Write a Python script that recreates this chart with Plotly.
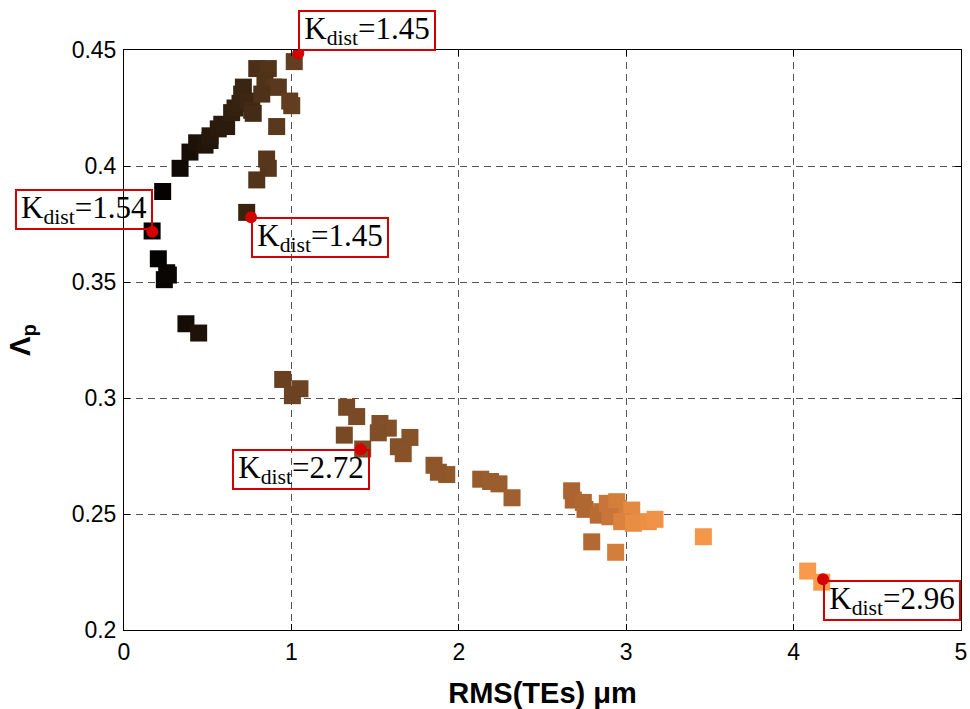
import plotly.graph_objects as go

# ---- data ----
rms_x = [0.168, 0.231, 0.205, 0.255, 0.241, 0.265, 0.370, 0.446, 0.335, 0.394,
         0.434, 0.484, 0.514, 0.514, 0.563, 0.584, 0.613, 0.643, 0.663, 0.693,
         0.703, 0.713, 0.743, 0.763, 0.772, 0.793, 0.862, 0.842, 0.892, 0.922,
         0.823, 1.002, 0.990, 0.912, 1.017, 0.852, 0.862, 0.793, 0.733,
         0.948, 1.051, 1.006, 1.330, 1.390, 1.316, 1.426, 1.529, 1.579, 1.519,
         1.708, 1.639, 1.668, 1.852, 1.928, 1.878, 2.131, 2.190, 2.240, 2.318,
         2.674, 2.684, 2.744, 2.754, 2.854, 2.833, 2.887, 2.943, 2.953, 2.903,
         3.033, 2.973, 3.043, 3.132, 3.172, 2.794, 2.937, 3.461, 4.084, 4.168]
lambda_p = [0.372, 0.389, 0.360, 0.354, 0.351, 0.353, 0.332, 0.328, 0.399, 0.406,
            0.410, 0.409, 0.411, 0.413, 0.416, 0.418, 0.417, 0.423, 0.425, 0.427,
            0.431, 0.434, 0.428, 0.424, 0.4227, 0.442, 0.442, 0.437, 0.434, 0.434,
            0.431, 0.426, 0.428, 0.417, 0.445, 0.403, 0.399, 0.394, 0.380,
            0.308, 0.304, 0.301, 0.296, 0.292, 0.284, 0.278, 0.289, 0.287, 0.285,
            0.283, 0.279, 0.276, 0.271, 0.267, 0.268, 0.265, 0.264, 0.263, 0.257,
            0.260, 0.256, 0.255, 0.252, 0.251, 0.2495, 0.2546, 0.2553, 0.2525, 0.2488,
            0.2517, 0.2467, 0.2460, 0.2467, 0.2477, 0.2380, 0.2335, 0.2402, 0.2254, 0.2206]
seq_index = [0.00, 0.02, 0.02, 0.03, 0.03, 0.04, 0.08, 0.12, 0.06, 0.09,
             0.11, 0.13, 0.14, 0.15, 0.16, 0.17, 0.17, 0.19, 0.20, 0.21,
             0.22, 0.23, 0.24, 0.26, 0.27, 0.30, 0.33, 0.32, 0.34, 0.36,
             0.31, 0.40, 0.39, 0.36, 0.40, 0.35, 0.35, 0.33, 0.22,
             0.42, 0.44, 0.43, 0.48, 0.49, 0.48, 0.50, 0.52, 0.53, 0.52,
             0.55, 0.54, 0.55, 0.58, 0.59, 0.58, 0.62, 0.63, 0.63, 0.65,
             0.70, 0.70, 0.72, 0.72, 0.76, 0.75, 0.80, 0.84, 0.84, 0.80,
             0.90, 0.86, 0.92, 0.94, 0.96, 0.73, 0.84, 0.98, 1.00, 1.00]

sel_x = [0.169, 1.041, 0.759, 1.414, 4.176]
sel_y = [0.3717, 0.4486, 0.3779, 0.2779, 0.2219]
sel_k = ["1.54", "1.45", "1.45", "2.72", "2.96"]

colorscale = [[0.0, "#000000"], [0.2, "#33200f"], [0.4, "#643e20"],
              [0.6, "#93592b"], [0.75, "#b86b33"], [0.88, "#e08640"],
              [1.0, "#f89a4c"]]

fig = go.Figure()
fig.add_trace(go.Scatter(
    x=rms_x, y=lambda_p, mode="markers",
    marker=dict(symbol="square", size=17, color=seq_index,
                colorscale=colorscale, cmin=0, cmax=1, showscale=False,
                line=dict(width=0)),
    showlegend=False))
fig.add_trace(go.Scatter(
    x=sel_x, y=sel_y, mode="markers",
    marker=dict(symbol="circle", size=12, color="#d40000", line=dict(width=0)),
    showlegend=False))

# label placements: (xanchor, yanchor, xshift, yshift)
place = [("right", "bottom", 1, 2),
         ("left", "bottom", 0, 2),
         ("left", "top", 0, 0),
         ("right", "top", 9, 0),
         ("left", "top", 0, -1)]
for (xx, yy, k, (xa, ya, xs, ys)) in zip(sel_x, sel_y, sel_k, place):
    fig.add_annotation(
        x=xx, y=yy, xref="x", yref="y", showarrow=False,
        text="K<sub>dist</sub>=" + k,
        font=dict(family="Liberation Serif, Times New Roman, serif", size=31, color="black"),
        xanchor=xa, yanchor=ya, xshift=xs, yshift=ys,
        bordercolor="#d40000", borderwidth=2, borderpad=1,
        bgcolor="rgba(0,0,0,0)", width=132, height=35)

axis_common = dict(showline=True, linecolor="black", linewidth=1, mirror="allticks",
                   ticks="inside", ticklen=6, tickcolor="black",
                   showgrid=True, gridcolor="#555555", gridwidth=1, griddash="7px,5px",
                   zeroline=False,
                   tickfont=dict(family="Liberation Sans, Arial, sans-serif", size=23, color="black"))

fig.update_xaxes(range=[0, 5], dtick=1, tick0=0,
                 title=dict(text="<b>RMS(TEs) μm</b>",
                            font=dict(family="Liberation Sans, Arial, sans-serif", size=29, color="black"),
                            standoff=20),
                 ticklabelstandoff=1, **axis_common)
fig.update_yaxes(range=[0.2, 0.45], dtick=0.05, tick0=0.2,
                 title=dict(text="<b>Λ<sub>p</sub></b>",
                            font=dict(family="Liberation Sans, Arial, sans-serif", size=29, color="black"),
                            standoff=32),
                 ticklabelstandoff=2, **axis_common)

fig.update_layout(width=970, height=709, plot_bgcolor="white", paper_bgcolor="white",
                  margin=dict(l=124, r=9, t=50, b=79, autoexpand=False))

fig.write_html("out.html", config={"displayModeBar": False},
               post_script="document.body.style.margin='0px';document.body.style.overflow='hidden';")
